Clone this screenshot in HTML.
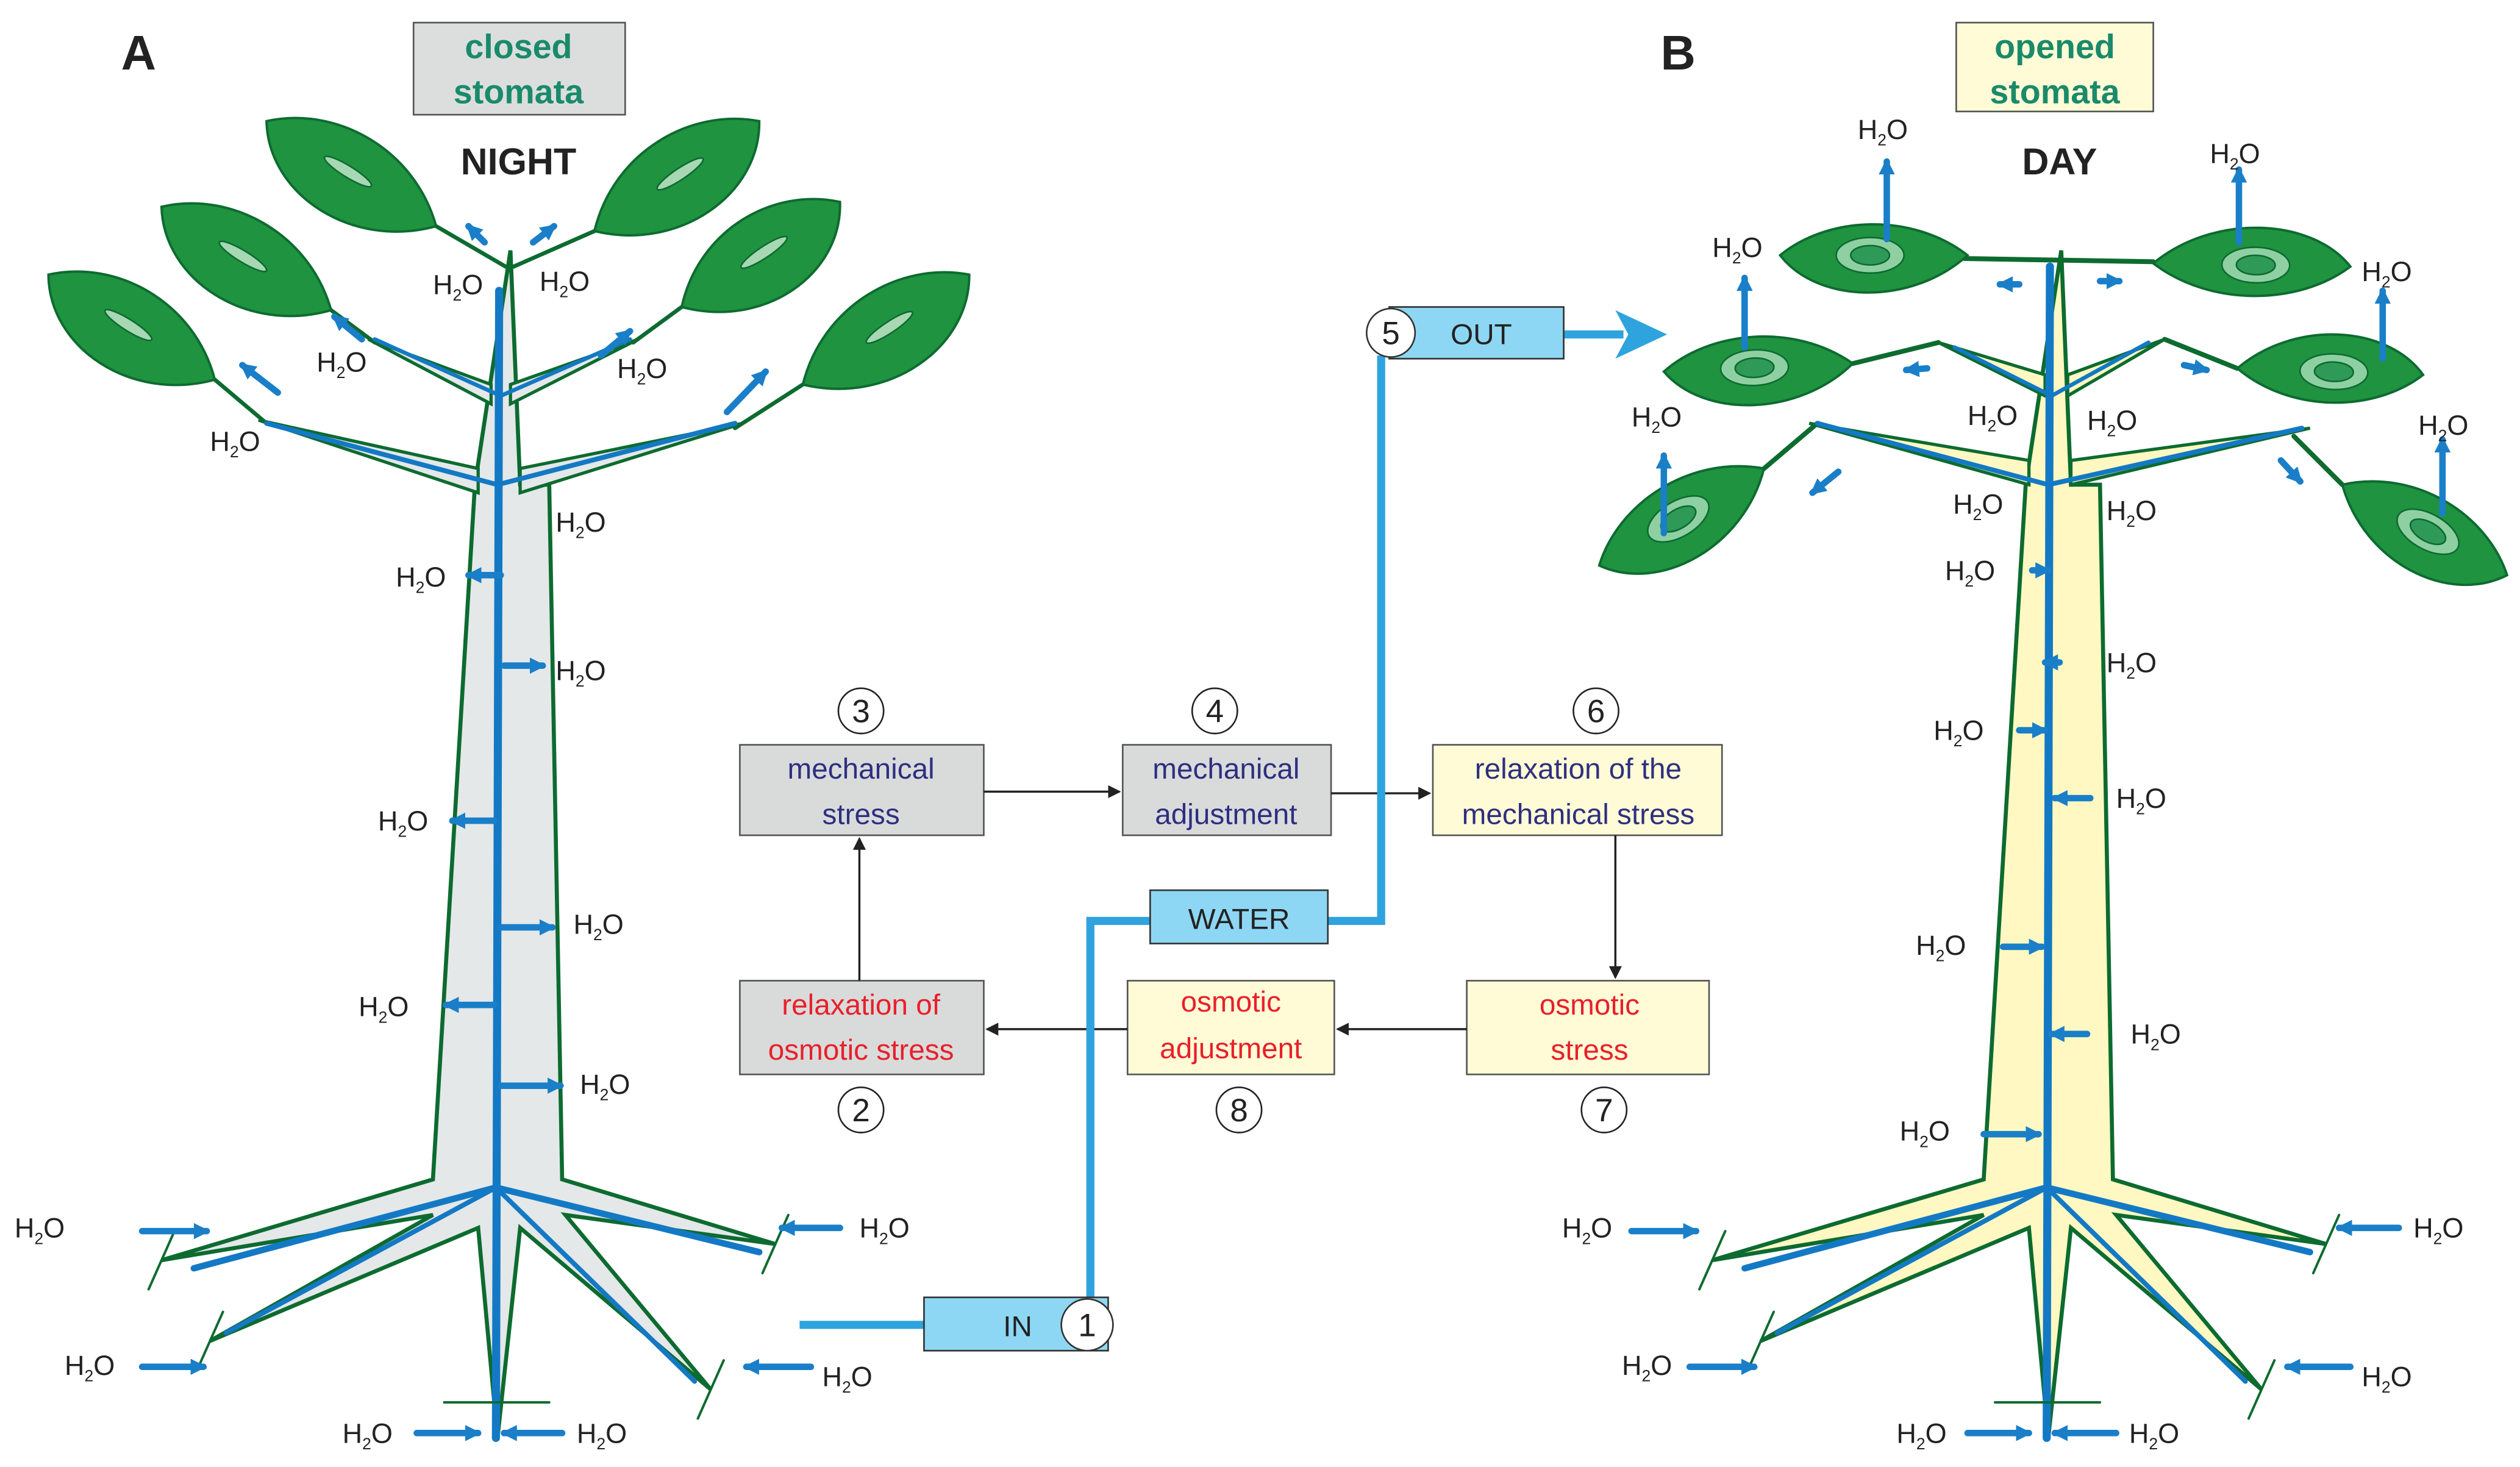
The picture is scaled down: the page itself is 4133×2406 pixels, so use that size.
<!DOCTYPE html>
<html><head><meta charset="utf-8"><style>
html,body{margin:0;padding:0;background:#fff}
svg{display:block}
text{font-family:"Liberation Sans",sans-serif}
.h{font-size:17px;fill:#222}
.h tspan.s{font-size:10px}
.bx{font-size:18px;text-anchor:middle}
.num{font-size:20px;text-anchor:middle;fill:#222}
</style></head><body>
<svg id="s" width="4133" height="2406" viewBox="0 0 1560 908" preserveAspectRatio="none" xmlns="http://www.w3.org/2000/svg">
<defs>
<marker id="ak" markerWidth="8" markerHeight="8" refX="7" refY="4" orient="auto" markerUnits="userSpaceOnUse"><path d="M0,0 L8,4 L0,8 Z" fill="#222"/></marker>
<marker id="ab" markerWidth="10" markerHeight="10" refX="8" refY="5" orient="auto" markerUnits="userSpaceOnUse"><path d="M0,0 L10,5 L0,10 Z" fill="#1a7fc8"/></marker>
</defs>
<g id="g"></g>

<g stroke="#555" stroke-width="1">
<rect x="458" y="461" width="151" height="56" fill="#d9dbdb"/>
<rect x="695" y="461" width="129" height="56" fill="#d9dbdb"/>
<rect x="887" y="461" width="179" height="56" fill="#fffbd6"/>
<rect x="458" y="607" width="151" height="58" fill="#d9dbdb"/>
<rect x="698" y="607" width="128" height="58" fill="#fffbd6"/>
<rect x="908" y="607" width="150" height="58" fill="#fffbd6"/>
<rect x="256" y="14" width="131" height="57" fill="#dcdede"/>
<rect x="1211" y="14" width="122" height="55" fill="#fffbd6"/>
</g>
<g stroke="#222" stroke-width="1.3" fill="none">
<line x1="609" y1="490" x2="693" y2="490" marker-end="url(#ak)"/>
<line x1="824" y1="491" x2="885" y2="491" marker-end="url(#ak)"/>
<line x1="1000" y1="517" x2="1000" y2="605" marker-end="url(#ak)"/>
<line x1="908" y1="637" x2="828" y2="637" marker-end="url(#ak)"/>
<line x1="698" y1="637" x2="611" y2="637" marker-end="url(#ak)"/>
<line x1="532" y1="607" x2="532" y2="519" marker-end="url(#ak)"/>
</g>
<g fill="#fff" stroke="#222" stroke-width="1">
<circle cx="533" cy="440" r="14"/><circle cx="752" cy="440" r="14"/><circle cx="988" cy="440" r="14"/>
<circle cx="533" cy="687" r="14"/><circle cx="767" cy="687" r="14"/><circle cx="993" cy="687" r="14"/>
</g>
<text class="num" x="533" y="447">3</text><text class="num" x="752" y="447">4</text><text class="num" x="988" y="447">6</text>
<text class="num" x="533" y="694">2</text><text class="num" x="767" y="694">8</text><text class="num" x="993" y="694">7</text>
<text class="bx" fill="#2e2f80" x="533" y="482">mechanical</text><text class="bx" fill="#2e2f80" x="533" y="510">stress</text>
<text class="bx" fill="#2e2f80" x="759" y="482">mechanical</text><text class="bx" fill="#2e2f80" x="759" y="510">adjustment</text>
<text class="bx" fill="#2e2f80" x="977" y="482">relaxation of the</text><text class="bx" fill="#2e2f80" x="977" y="510">mechanical stress</text>
<text class="bx" fill="#e8202a" x="533" y="628">relaxation of</text><text class="bx" fill="#e8202a" x="533" y="656">osmotic stress</text>
<text class="bx" fill="#e8202a" x="762" y="626">osmotic</text><text class="bx" fill="#e8202a" x="762" y="655">adjustment</text>
<text class="bx" fill="#e8202a" x="984" y="628">osmotic</text><text class="bx" fill="#e8202a" x="984" y="656">stress</text>

<g stroke="#2ea3dd" stroke-width="5" fill="none">
<polyline points="495,820 575,820"/>
<polyline points="675,805 675,570 714,570"/>
<polyline points="820,570 855,570 855,220"/>
<line x1="966" y1="207" x2="1005" y2="207"/>
</g>
<path d="M1000,192 L1032,207 L1000,222 L1008,207 Z" fill="#2ea3dd"/>
<g stroke="#333" stroke-width="1">
<rect x="572" y="803" width="114" height="33" fill="#8ed7f4"/>
<rect x="712" y="551" width="110" height="33" fill="#8ed7f4"/>
<rect x="860" y="190" width="108" height="32" fill="#8ed7f4"/>
<circle cx="673" cy="820" r="16" fill="#fff"/>
<circle cx="861" cy="206" r="15" fill="#fff"/>
</g>
<text class="bx" fill="#222" x="630" y="827">IN</text>
<text class="num" x="673" y="827">1</text>
<text class="bx" fill="#222" x="767" y="575">WATER</text>
<text class="bx" fill="#222" x="917" y="213">OUT</text>
<text class="num" x="861" y="213">5</text>

<text x="75" y="43" font-size="30" font-weight="bold" fill="#222">A</text>
<text x="1028" y="43" font-size="30" font-weight="bold" fill="#222">B</text>
<text x="321" y="36" font-size="21" font-weight="bold" fill="#1a8a6a" text-anchor="middle">closed</text>
<text x="321" y="64" font-size="21" font-weight="bold" fill="#1a8a6a" text-anchor="middle">stomata</text>
<text x="1272" y="36" font-size="21" font-weight="bold" fill="#1a8a6a" text-anchor="middle">opened</text>
<text x="1272" y="64" font-size="21" font-weight="bold" fill="#1a8a6a" text-anchor="middle">stomata</text>
<text x="321" y="108" font-size="23" font-weight="bold" fill="#222" text-anchor="middle">NIGHT</text>
<text x="1275" y="108" font-size="23" font-weight="bold" fill="#222" text-anchor="middle">DAY</text>

<g class="h">
<text x="268" y="182">H<tspan class="s" dy="4">2</tspan><tspan dy="-4">O</tspan></text>
<text x="334" y="180">H<tspan class="s" dy="4">2</tspan><tspan dy="-4">O</tspan></text>
<text x="196" y="230">H<tspan class="s" dy="4">2</tspan><tspan dy="-4">O</tspan></text>
<text x="382" y="234">H<tspan class="s" dy="4">2</tspan><tspan dy="-4">O</tspan></text>
<text x="130" y="279">H<tspan class="s" dy="4">2</tspan><tspan dy="-4">O</tspan></text>
<text x="344" y="329">H<tspan class="s" dy="4">2</tspan><tspan dy="-4">O</tspan></text>
<text x="245" y="363">H<tspan class="s" dy="4">2</tspan><tspan dy="-4">O</tspan></text>
<text x="344" y="421">H<tspan class="s" dy="4">2</tspan><tspan dy="-4">O</tspan></text>
<text x="234" y="514">H<tspan class="s" dy="4">2</tspan><tspan dy="-4">O</tspan></text>
<text x="355" y="578">H<tspan class="s" dy="4">2</tspan><tspan dy="-4">O</tspan></text>
<text x="222" y="629">H<tspan class="s" dy="4">2</tspan><tspan dy="-4">O</tspan></text>
<text x="359" y="677">H<tspan class="s" dy="4">2</tspan><tspan dy="-4">O</tspan></text>
<text x="9" y="766">H<tspan class="s" dy="4">2</tspan><tspan dy="-4">O</tspan></text>
<text x="532" y="766">H<tspan class="s" dy="4">2</tspan><tspan dy="-4">O</tspan></text>
<text x="40" y="851">H<tspan class="s" dy="4">2</tspan><tspan dy="-4">O</tspan></text>
<text x="509" y="858">H<tspan class="s" dy="4">2</tspan><tspan dy="-4">O</tspan></text>
<text x="212" y="893">H<tspan class="s" dy="4">2</tspan><tspan dy="-4">O</tspan></text>
<text x="357" y="893">H<tspan class="s" dy="4">2</tspan><tspan dy="-4">O</tspan></text>

<text x="1150" y="86">H<tspan class="s" dy="4">2</tspan><tspan dy="-4">O</tspan></text>
<text x="1368" y="101">H<tspan class="s" dy="4">2</tspan><tspan dy="-4">O</tspan></text>
<text x="1060" y="159">H<tspan class="s" dy="4">2</tspan><tspan dy="-4">O</tspan></text>
<text x="1462" y="174">H<tspan class="s" dy="4">2</tspan><tspan dy="-4">O</tspan></text>
<text x="1010" y="264">H<tspan class="s" dy="4">2</tspan><tspan dy="-4">O</tspan></text>
<text x="1218" y="263">H<tspan class="s" dy="4">2</tspan><tspan dy="-4">O</tspan></text>
<text x="1292" y="266">H<tspan class="s" dy="4">2</tspan><tspan dy="-4">O</tspan></text>
<text x="1497" y="269">H<tspan class="s" dy="4">2</tspan><tspan dy="-4">O</tspan></text>
<text x="1209" y="318">H<tspan class="s" dy="4">2</tspan><tspan dy="-4">O</tspan></text>
<text x="1304" y="322">H<tspan class="s" dy="4">2</tspan><tspan dy="-4">O</tspan></text>
<text x="1204" y="359">H<tspan class="s" dy="4">2</tspan><tspan dy="-4">O</tspan></text>
<text x="1304" y="416">H<tspan class="s" dy="4">2</tspan><tspan dy="-4">O</tspan></text>
<text x="1197" y="458">H<tspan class="s" dy="4">2</tspan><tspan dy="-4">O</tspan></text>
<text x="1310" y="500">H<tspan class="s" dy="4">2</tspan><tspan dy="-4">O</tspan></text>
<text x="1186" y="591">H<tspan class="s" dy="4">2</tspan><tspan dy="-4">O</tspan></text>
<text x="1319" y="646">H<tspan class="s" dy="4">2</tspan><tspan dy="-4">O</tspan></text>
<text x="1176" y="706">H<tspan class="s" dy="4">2</tspan><tspan dy="-4">O</tspan></text>
<text x="967" y="766">H<tspan class="s" dy="4">2</tspan><tspan dy="-4">O</tspan></text>
<text x="1494" y="766">H<tspan class="s" dy="4">2</tspan><tspan dy="-4">O</tspan></text>
<text x="1004" y="851">H<tspan class="s" dy="4">2</tspan><tspan dy="-4">O</tspan></text>
<text x="1462" y="858">H<tspan class="s" dy="4">2</tspan><tspan dy="-4">O</tspan></text>
<text x="1174" y="893">H<tspan class="s" dy="4">2</tspan><tspan dy="-4">O</tspan></text>
<text x="1318" y="893">H<tspan class="s" dy="4">2</tspan><tspan dy="-4">O</tspan></text>
</g>
</svg>
<script>
(function(){
var NS="http://www.w3.org/2000/svg",G=document.getElementById("g");
function el(t,a){var e=document.createElementNS(NS,t);for(var k in a)e.setAttribute(k,a[k]);G.appendChild(e);return e;}
var LG="#1f9340",DG="#0d6b30",BL="#1479c4";
function leaf(tx,ty,bx,by,w,open){
 var dx=bx-tx,dy=by-ty,L=Math.hypot(dx,dy),nx=-dy/L,ny=dx/L;
 var p="M"+tx+","+ty+" C"+(tx+dx*0.2+nx*w)+","+(ty+dy*0.2+ny*w)+" "+(bx-dx*0.3+nx*w*1.05)+","+(by-dy*0.3+ny*w*1.05)+" "+bx+","+by+
 " C"+(bx-dx*0.3-nx*w*0.9)+","+(by-dy*0.3-ny*w*0.9)+" "+(tx+dx*0.25-nx*w*0.8)+","+(ty+dy*0.25-ny*w*0.8)+" "+tx+","+ty+"Z";
 el("path",{d:p,fill:LG,stroke:DG,"stroke-width":1.5});
 var cx=tx+dx*0.48,cy=ty+dy*0.48,ang=Math.atan2(dy,dx)*180/Math.PI;
 if(!open){el("ellipse",{cx:cx,cy:cy,rx:17,ry:3.5,fill:"#a7d8b3",stroke:DG,"stroke-width":1,transform:"rotate("+ang+" "+cx+" "+cy+")"});}
 else{el("ellipse",{cx:cx,cy:cy,rx:21,ry:11,fill:"#8fd0a3",stroke:DG,"stroke-width":1,transform:"rotate("+ang+" "+cx+" "+cy+")"});
 el("ellipse",{cx:cx,cy:cy,rx:12,ry:6,fill:"#2f9a58",stroke:DG,"stroke-width":1,transform:"rotate("+ang+" "+cx+" "+cy+")"});}
}
function line(x1,y1,x2,y2,c,w){el("line",{x1:x1,y1:y1,x2:x2,y2:y2,stroke:c,"stroke-width":w,"stroke-linecap":"round"});}
function barr(x1,y1,x2,y2){line(x1,y1,x2,y2,"#1a7fc8",4);el("line",{x1:x1,y1:y1,x2:x2,y2:y2,stroke:"#1a7fc8","stroke-width":1,"marker-end":"url(#ab)"});}
var base=[[316,155],[322,300],[340,300],[348,730],[480,770],[350,752],[440,860],[322,760],[308,890],[296,760],[130,830],[268,752],[100,780],[268,730],[294,300]];
function P(o){return base.map(function(p){return (p[0]+o)+","+p[1];}).join(" ");}
// ---- Tree A
el("polygon",{points:P(0),fill:"#e4e8e9",stroke:DG,"stroke-width":2.5});
el("polygon",{points:"296,305 160,260 296,290",fill:"#e4e8e9",stroke:DG,"stroke-width":2});
el("polygon",{points:"322,305 460,262 322,290",fill:"#e4e8e9",stroke:DG,"stroke-width":2});
el("polygon",{points:"304,250 228,210 304,238",fill:"#e4e8e9",stroke:DG,"stroke-width":2});
el("polygon",{points:"316,250 395,210 316,238",fill:"#e4e8e9",stroke:DG,"stroke-width":2});
line(313,165,270,140,DG,2.5);line(318,165,368,143,DG,2.5);
line(133,235,165,262,DG,2.5);line(497,238,455,265,DG,2.5);line(205,192,232,212,DG,2.5);line(422,190,392,212,DG,2.5);
leaf(165,75,270,140,38,false);leaf(100,128,205,192,38,false);leaf(30,170,133,235,38,false);
leaf(470,75,368,143,-38,false);leaf(520,125,422,190,-38,false);leaf(600,170,497,238,-38,false);
line(309,180,307,890,BL,5);
line(308,300,165,262,BL,3);line(308,300,455,262,BL,3);line(310,245,232,210,BL,2.5);line(310,245,390,210,BL,2.5);
line(307,735,120,785,BL,4);line(307,735,140,825,BL,3);line(307,735,470,775,BL,4);line(307,735,430,855,BL,3);
[[100,780],[130,830],[480,770],[440,860]].forEach(function(p){line(p[0]-8,p[1]+18,p[0]+8,p[1]-18,DG,1.5);});
line(275,868,340,868,DG,1.5);
barr(310,356,290,356);barr(312,412,336,412);barr(306,508,280,508);barr(310,574,342,574);barr(306,622,276,622);barr(310,672,347,672);
barr(88,762,128,762);barr(520,760,484,760);barr(88,846,126,846);barr(502,846,462,846);barr(258,887,296,887);barr(348,887,312,887);
barr(172,243,150,226);barr(224,210,207,196);barr(300,150,290,140);barr(330,150,343,140);barr(372,220,390,205);barr(450,255,474,230);
// ---- Tree B
var o=960;
el("polygon",{points:P(o),fill:"#fff8c2",stroke:DG,"stroke-width":2.5});
el("polygon",{points:"1256,300 1120,262 1256,285",fill:"#fff8c2",stroke:DG,"stroke-width":2});
el("polygon",{points:"1282,300 1430,265 1282,285",fill:"#fff8c2",stroke:DG,"stroke-width":2});
el("polygon",{points:"1266,245 1200,212 1266,232",fill:"#fff8c2",stroke:DG,"stroke-width":2});
el("polygon",{points:"1280,245 1340,210 1280,232",fill:"#fff8c2",stroke:DG,"stroke-width":2});
line(1216,160,1333,162,DG,3);
line(1147,225,1200,212,DG,3);line(1340,210,1385,228,DG,3);
line(1092,290,1125,262,DG,3);line(1450,300,1420,270,DG,3);
leaf(1102,158,1218,158,30,true);leaf(1455,165,1333,163,30,true);
leaf(1030,230,1147,225,30,true);leaf(1500,232,1385,228,30,true);
leaf(990,350,1092,290,34,true);leaf(1552,356,1450,300,-34,true);
line(1269,165,1267,890,BL,5);
line(1268,300,1125,262,BL,3);line(1268,300,1425,265,BL,3);line(1270,245,1210,215,BL,2.5);line(1270,245,1330,212,BL,2.5);
line(1267,735,1080,785,BL,4);line(1267,735,1100,825,BL,3);line(1267,735,1430,775,BL,4);line(1267,735,1390,855,BL,3);
[[1060,780],[1090,830],[1440,770],[1400,860]].forEach(function(p){line(p[0]-8,p[1]+18,p[0]+8,p[1]-18,DG,1.5);});
line(1235,868,1300,868,DG,1.5);
barr(1168,148,1168,100);barr(1386,150,1386,105);barr(1080,215,1080,172);barr(1475,222,1475,180);barr(1030,330,1030,282);barr(1512,318,1512,272);
barr(1250,176,1238,176);barr(1300,174,1312,174);barr(1193,228,1180,229);barr(1352,226,1366,229);barr(1138,292,1122,305);barr(1412,285,1424,298);
barr(1258,353,1268,353);barr(1250,452,1266,452);barr(1294,494,1272,494);barr(1240,586,1264,586);barr(1292,640,1270,640);barr(1228,702,1262,702);
barr(1275,410,1266,410);
barr(1010,762,1050,762);barr(1485,760,1448,760);barr(1046,846,1086,846);barr(1455,846,1416,846);barr(1218,887,1256,887);barr(1310,887,1272,887);
})();
</script>
</body></html>
